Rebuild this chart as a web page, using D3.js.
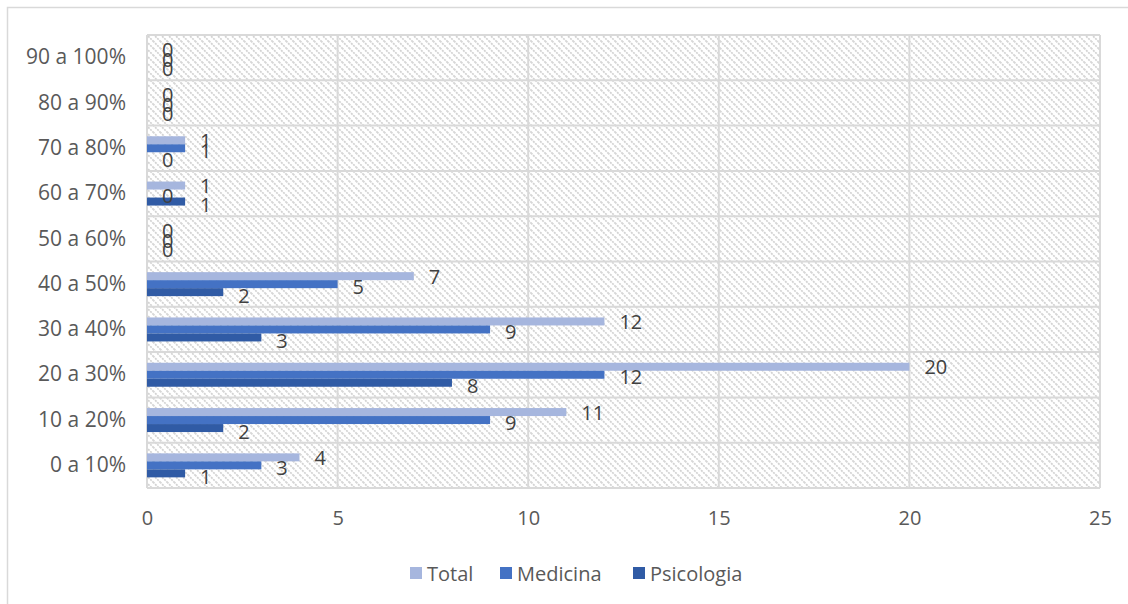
<!DOCTYPE html>
<html>
<head>
<meta charset="utf-8">
<script src="https://cdn.jsdelivr.net/npm/d3@7"></script>
<style>
  html, body { margin: 0; padding: 0; background: #fff; }
  svg { display: block; font-family: "Open Sans", sans-serif; }
</style>
</head>
<body>
<svg id="chart" width="1128" height="604"></svg>
<script>
// Percentage bands, bottom to top
const categories = ["0 a 10%", "10 a 20%", "20 a 30%", "30 a 40%", "40 a 50%",
                    "50 a 60%", "60 a 70%", "70 a 80%", "80 a 90%", "90 a 100%"];
const seriesNames = ["Total", "Medicina", "Psicologia"];
const totalValues      = [4, 11, 20, 12, 7, 0, 1, 1, 0, 0];
const medicinaValues   = [3, 9, 12, 9, 5, 0, 0, 1, 0, 0];
const psicologiaValues = [1, 2, 8, 3, 2, 0, 1, 0, 0, 0];
const xTicks = [0, 5, 10, 15, 20, 25];
const colors = ["#a6b6de", "#4472c4", "#305ba5"];

const seriesValues = [totalValues, medicinaValues, psicologiaValues];
const FONT = "'Open Sans', sans-serif";

const svg = d3.select("#chart");
const W = 1128, H = 604;
const plot = { left: 147, right: 1100, top: 35, bottom: 488 };

// Outer chart border
svg.append("rect")
  .attr("x", 7.5).attr("y", 7.5)
  .attr("width", W + 20).attr("height", H + 20)
  .attr("fill", "#fff").attr("stroke", "#d9d9d9").attr("stroke-width", 1.5);

// Diagonal hatch for the plot area
const defs = svg.append("defs");
const pat = defs.append("pattern")
  .attr("id", "hatch").attr("patternUnits", "userSpaceOnUse")
  .attr("width", 7).attr("height", 7);
pat.append("rect").attr("width", 7).attr("height", 7).attr("fill", "#fff");
pat.append("path")
  .attr("d", "M-1,-1 L8,8 M-1,6 L1,8 M6,-1 L8,1")
  .attr("stroke", "#d2d2d2").attr("stroke-width", 1.7)
  .attr("stroke-dasharray", "2,1");

svg.append("rect")
  .attr("x", plot.left).attr("y", plot.top)
  .attr("width", plot.right - plot.left).attr("height", plot.bottom - plot.top)
  .attr("fill", "url(#hatch)");

const x = d3.scaleLinear().domain([0, 25]).range([plot.left, plot.right]);
const y = d3.scaleBand().domain(categories.slice().reverse())
  .range([plot.top, plot.bottom]).paddingInner(0).paddingOuter(0);
const barH = 8;
const inner = d3.scaleBand().domain(seriesNames)
  .range([y.bandwidth() / 2 - 1.5 * barH, y.bandwidth() / 2 + 1.5 * barH]);

// Grid lines
const grid = svg.append("g").attr("stroke", "#d9d9d9").attr("stroke-width", 2);
xTicks.forEach(t => {
  grid.append("line")
    .attr("x1", x(t)).attr("x2", x(t))
    .attr("y1", plot.top).attr("y2", plot.bottom);
});
categories.forEach(c => {
  grid.append("line")
    .attr("x1", plot.left).attr("x2", plot.right)
    .attr("y1", y(c)).attr("y2", y(c));
});
grid.append("line")
  .attr("x1", plot.left).attr("x2", plot.right)
  .attr("y1", plot.bottom).attr("y2", plot.bottom);

// Bars
const groups = svg.append("g").selectAll("g")
  .data(categories).join("g")
  .attr("transform", d => `translate(0,${y(d)})`);

seriesNames.forEach((name, si) => {
  groups.append("rect")
    .attr("x", x(0))
    .attr("y", inner(name))
    .attr("width", (d, i) => x(seriesValues[si][i]) - x(0))
    .attr("height", inner.bandwidth())
    .attr("fill", colors[si]);
});

// Value labels
const labelOffsetY = [0, 2, 3];
seriesNames.forEach((name, si) => {
  groups.append("text")
    .attr("x", (d, i) => x(seriesValues[si][i]) + 15)
    .attr("y", inner(name) + inner.bandwidth() / 2 + labelOffsetY[si])
    .attr("dominant-baseline", "central")
    .attr("font-size", 20)
    .attr("font-family", FONT)
    .attr("fill", "#404040")
    .text((d, i) => seriesValues[si][i]);
});

// Category axis
const yAxis = d3.axisLeft(y).tickSize(0).tickPadding(21);
svg.append("g")
  .attr("transform", `translate(${plot.left},0)`)
  .call(yAxis)
  .call(g => g.select(".domain").remove())
  .call(g => g.selectAll("text")
    .attr("font-size", 21).attr("fill", "#595959")
    .attr("font-family", FONT));

// Value axis
const xAxis = d3.axisBottom(x).tickValues(xTicks).tickSize(0).tickPadding(23);
svg.append("g")
  .attr("transform", `translate(0,${plot.bottom})`)
  .call(xAxis)
  .call(g => g.select(".domain").remove())
  .call(g => g.selectAll("text")
    .attr("font-size", 20).attr("fill", "#595959")
    .attr("font-family", FONT));

// Legend
const legendItems = [
  { name: "Total", x: 410 },
  { name: "Medicina", x: 500 },
  { name: "Psicologia", x: 633 }
];
const legend = svg.append("g").selectAll("g")
  .data(legendItems).join("g")
  .attr("transform", d => `translate(${d.x},573)`);
legend.append("rect")
  .attr("x", 0).attr("y", -6).attr("width", 12).attr("height", 12)
  .attr("fill", (d, i) => colors[i]);
legend.append("text")
  .attr("x", 17).attr("y", 0)
  .attr("dominant-baseline", "central")
  .attr("font-size", 20).attr("font-family", FONT).attr("fill", "#595959")
  .text(d => d.name);
</script>
</body>
</html>
